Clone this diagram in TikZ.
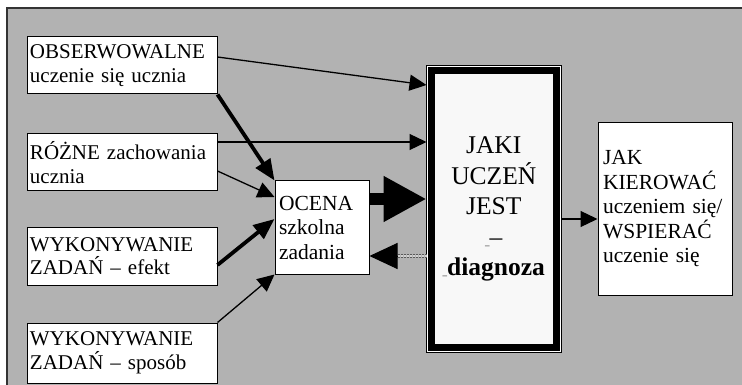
\documentclass[tikz,border=0pt]{standalone}
\usepackage{fontspec}
\setmainfont{Liberation Serif}
\usetikzlibrary{arrows.meta}
\definecolor{bggray}{RGB}{178,178,178}
\definecolor{framegray}{RGB}{51,51,51}
\definecolor{paper}{RGB}{248,248,248}

\begin{document}
\begin{tikzpicture}[x=1pt,y=-1pt,>={Triangle[length=17pt,width=16pt]}]
        \tikzstyle{srcbox}=[draw,fill=white,line width=1pt,text width=184pt,inner xsep=3pt,inner ysep=5pt,
                            align=left,font=\fontsize{21}{23.5}\selectfont]
        \tikzstyle{thinarr}=[->,line width=1.3pt]
        \tikzstyle{thickarr}=[-{Triangle[length=21pt,width=17pt]},line width=3.8pt]
        \tikzstyle{backline}=[draw=black!65,line width=1.2pt,dash pattern=on 2pt off 1pt,
                              double=bggray!60!white,double distance=2pt]

        \useasboundingbox (0,0) rectangle (742,385);
        \clip (0,0) rectangle (742,385);
        \fill[white] (0,0) rectangle (742,385);
        \draw[framegray,line width=2pt,fill=bggray] (7,8.5) rectangle (800,420);

        \foreach \name/\y/\h/\text in {obs/65.5/57/{OBSERWOWALNE\\uczenie się ucznia},
                                       rozne/162.5/57/{RÓŻNE zachowania\\ucznia},
                                       efekt/256/58/{WYKONYWANIE\\ZADAŃ -- efekt},
                                       sposob/353/60/{WYKONYWANIE\\ZADAŃ -- sposób}}
          \node[srcbox,minimum height=\h pt] (\name) at (122,\y) {\text};

        \node[draw,fill=white,line width=1pt,text width=86pt,inner sep=4pt,minimum height=93pt,
              align=left,font=\fontsize{21.5}{24.5}\selectfont] (ocena) at (322,227.5)
              {OCENA\\szkolna\\zadania};

        \node[preaction={draw=black,line width=11pt},preaction={draw=white,line width=9pt},
              draw,line width=7pt,fill=paper,minimum width=124.5pt,minimum height=276pt,
              outer sep=5pt,align=center,font=\fontsize{25.5}{30.5}\selectfont] (jaki) at (493.75,209)
              {JAKI\\UCZEŃ\\JEST\\{\fontsize{9}{9}\selectfont\_}--\\{\fontsize{9}{9}\selectfont\_}\textbf{diagnoza}};

        \node[draw,fill=white,line width=1pt,text width=124pt,inner sep=5pt,minimum height=172pt,
              align=left,font=\fontsize{21.5}{24.5}\selectfont] (jak) at (665,209)
              {JAK\\KIEROWAĆ\\uczeniem się/\\WSPIERAĆ\\uczenie się};

        % to the diagnosis
        \draw[thinarr] ([yshift=8.5pt]obs.east) -- ([yshift=-19pt]jaki.north west);
        \draw[thinarr] ([yshift=20.5pt]rozne.east) -- ([yshift=67pt]jaki.west);
        \draw[-{Triangle[length=43pt,width=43pt]},line width=11pt]
              ([yshift=28.5pt]ocena.east) -- ([yshift=10pt]jaki.west);

        % to the school mark
        \draw[thickarr] (obs.south east) -- (ocena.north west);
        \draw[thinarr] ([yshift=-8.5pt]rozne.east) -- ([yshift=30.5pt]ocena.west);
        \draw[thickarr] ([yshift=-9pt]efekt.east) -- ([yshift=8.5pt]ocena.west);
        \draw[thinarr] (sposob.north east) -- (ocena.south west);

        % back from the diagnosis
        \draw[backline,shorten >=27pt] ([yshift=-47pt]jaki.west) -- ([yshift=-28.5pt]ocena.east);
        \draw[-{Triangle[length=28pt,width=26pt]},line width=1pt,shorten <=29pt]
              ([yshift=-47pt]jaki.west) -- ([yshift=-28.5pt]ocena.east);

        \draw[thinarr] ([yshift=-10pt]jaki.east) -- ([yshift=-10pt]jak.west);
      \end{tikzpicture}
\end{document}
